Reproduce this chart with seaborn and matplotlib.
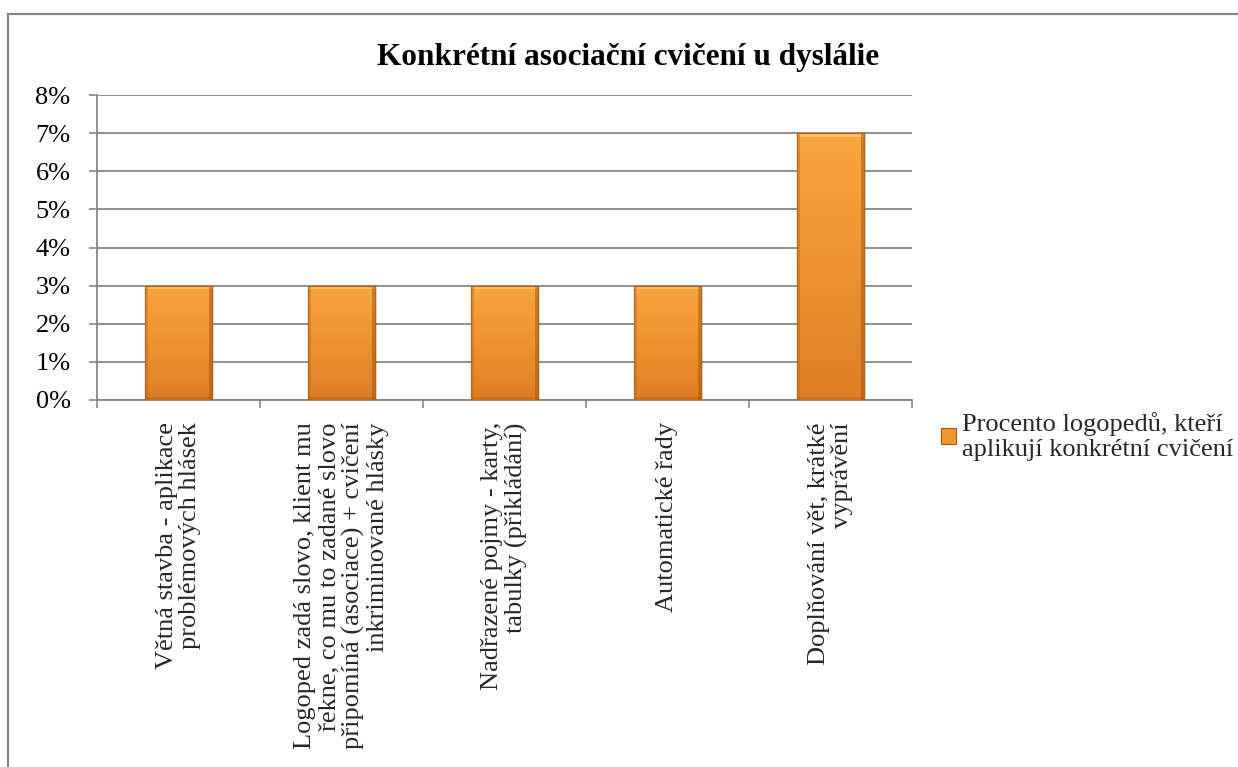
"""
Konkrétní asociační cvičení u dyslálie - sloupcový graf
"""
import matplotlib
matplotlib.use('Agg')
import matplotlib.pyplot as plt
import matplotlib.patches as mpatches
from matplotlib.colors import LinearSegmentedColormap
from matplotlib.ticker import FixedLocator, FuncFormatter
import seaborn as sns
import numpy as np
import pandas as pd

# ================================================================================
# DATA
# ================================================================================

categories = [
    "Větná stavba - aplikace\nproblémových hlásek",
    "Logoped zadá slovo, klient mu\nřekne, co mu to zadané slovo\npřipomíná (asociace) + cvičení\ninkriminované hlásky",
    "Nadřazené pojmy - karty,\ntabulky (přikládání)",
    "Automatické řady",
    "Doplňování vět, krátké\nvyprávění",
]
values = [3, 3, 3, 3, 7]
y_ticks = [0, 1, 2, 3, 4, 5, 6, 7, 8]
series_label = "Procento logopedů, kteří\naplikují konkrétní cvičení"
title = "Konkrétní asociační cvičení u dyslálie"

df = pd.DataFrame({'kategorie': categories, 'procento': values})

# ================================================================================
# STYLE
# ================================================================================

sns.set_theme(style='white')
plt.rcParams['font.family'] = ['Liberation Serif', 'DejaVu Serif']

grid_gray = '#868686'
bar_top = '#FAA53D'
bar_bottom = '#E07D24'
bar_edge = '#B86418'
FS = 19

W, H = 1238, 767
fig = plt.figure(figsize=(W / 100, H / 100), dpi=100)
fig.patch.set_facecolor('white')

# Plot area (pixels -> figure coords)
left, right, top, bottom = 97, 912, 95, 400
ax = fig.add_axes([left / W, 1 - bottom / H, (right - left) / W, (bottom - top) / H])

sns.barplot(data=df, x='kategorie', y='procento', color=bar_top,
            width=0.41, ax=ax, zorder=3, edgecolor=bar_edge, linewidth=0.8)

# Gradient fill on the bars (light on top, darker at the bottom)
cmap = LinearSegmentedColormap.from_list('orange', [bar_bottom, bar_top])
grad = np.linspace(0, 1, 256).reshape(-1, 1)
for p in list(ax.patches):
    x0, y0 = p.get_x(), p.get_y()
    w, h = p.get_width(), p.get_height()
    # soft shadow
    ax.add_patch(mpatches.Rectangle((x0 + 0.012, y0 - 0.03), w, h, facecolor='#000000',
                                    alpha=0.12, edgecolor='none', zorder=2.5))
    im = ax.imshow(grad, extent=[x0, x0 + w, y0, y0 + h], origin='lower', cmap=cmap,
                   aspect='auto', zorder=3.5, interpolation='bicubic')
    im.set_clip_path(p)
    # bevel: light top strip, darker sides and bottom
    ax.add_patch(mpatches.Rectangle((x0, y0 + h - 0.1), w, 0.1, facecolor='#FFD68A',
                                    alpha=0.6, edgecolor='none', zorder=3.6))
    ax.add_patch(mpatches.Rectangle((x0, y0), w * 0.05, h, facecolor='#C06A1C',
                                    alpha=0.45, edgecolor='none', zorder=3.6))
    ax.add_patch(mpatches.Rectangle((x0 + w * 0.95, y0), w * 0.05, h, facecolor='#9E5514',
                                    alpha=0.5, edgecolor='none', zorder=3.6))
    ax.add_patch(mpatches.Rectangle((x0, y0), w, 0.07, facecolor='#A85A16',
                                    alpha=0.4, edgecolor='none', zorder=3.6))
    ax.add_patch(mpatches.Rectangle((x0, y0), w, h, facecolor='none',
                                    edgecolor=bar_edge, linewidth=0.8, zorder=3.7))

# Axes
ax.set_xlim(-0.5, len(categories) - 0.5)
ax.set_ylim(0, 8)
ax.set_yticks(y_ticks)
ax.yaxis.set_major_formatter(FuncFormatter(lambda v, _: f'{int(v)}%'))
ax.grid(axis='y', color=grid_gray, linewidth=1.3, zorder=0)
ax.grid(axis='x', visible=False)
ax.set_axisbelow(True)
ax.set_xlabel('')
ax.set_ylabel('')

for side in ['top', 'right']:
    ax.spines[side].set_visible(False)
for side in ['left', 'bottom']:
    ax.spines[side].set_color(grid_gray)
    ax.spines[side].set_linewidth(1.3)

ax.tick_params(axis='y', which='major', left=True, length=6, width=1.2,
               color=grid_gray, pad=13, labelsize=FS, labelcolor='black')

# Category separator ticks on the x-axis
ax.xaxis.set_minor_locator(FixedLocator(np.arange(-0.5, len(categories), 1.0)))
ax.tick_params(axis='x', which='minor', bottom=True, length=6, width=1.2,
               color=grid_gray, direction='out')
ax.tick_params(axis='x', which='major', bottom=False, length=0, pad=16)
ax.set_xticks(range(len(categories)))
ax.set_xticklabels(categories, rotation=90, ha='center', va='top',
                   fontsize=FS, multialignment='right', linespacing=1.1)

# Title
fig.text(628 / W, 1 - 58 / H, title, ha='center', va='center',
         fontsize=22.5, fontweight='bold', color='black')

# Legend
handle = mpatches.Patch(facecolor='#F29435', edgecolor='#A85A16', linewidth=0.8)
fig.legend([handle], [series_label], loc='upper left',
           bbox_to_anchor=(941 / W, 1 - 412 / H), frameon=False,
           fontsize=FS, handlelength=0.55, handleheight=0.55, handletextpad=0.25,
           borderaxespad=0, borderpad=0, labelspacing=0.2)

# Chart border (top and left edges visible)
fig.add_artist(mpatches.Rectangle((7.5 / W, -0.1), 1.2, 1 - 14 / H + 0.1,
                                  transform=fig.transFigure, fill=False,
                                  edgecolor=grid_gray, linewidth=1.6, clip_on=False))

fig.savefig('out.png', dpi=100)
